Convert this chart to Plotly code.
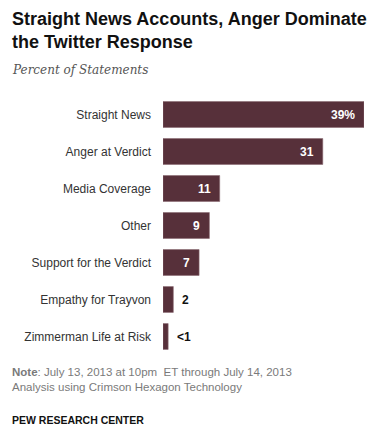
import plotly.graph_objects as go

categories = ["Straight News", "Anger at Verdict", "Media Coverage", "Other",
              "Support for the Verdict", "Empathy for Trayvon", "Zimmerman Life at Risk"]
values = [39, 31, 11, 9, 7, 2, 1]
value_labels = ["39%", "31", "11", "9", "7", "2", "<1"]
inside = [True, True, True, True, True, False, False]

BAR = "#57303A"
SANS = "Liberation Sans, Arial, sans-serif"

fig = go.Figure()
fig.add_trace(go.Bar(
    x=values, y=categories, orientation="h",
    marker=dict(color=BAR, line=dict(color="#8a6a72", width=0.6)),
    hoverinfo="skip",
))

L, R, T, B = 163, 10, 96, 84
fig.update_layout(
    width=374, height=439,
    margin=dict(l=L, r=R, t=T, b=B, pad=0),
    paper_bgcolor="white", plot_bgcolor="white",
    showlegend=False,
    bargap=0.3,
    font=dict(family=SANS, size=12, color="#333333"),
    xaxis=dict(range=[0, 39], visible=False, fixedrange=True),
    yaxis=dict(categoryorder="array", categoryarray=categories[::-1],
               showgrid=False, showline=False, zeroline=False, ticks="",
               ticklabelstandoff=11, tickfont=dict(size=12, color="#333333"),
               fixedrange=True),
)

for c, v, lab, ins in zip(categories, values, value_labels, inside):
    fig.add_annotation(
        x=v, y=c, xref="x", yref="y", text="<b>%s</b>" % lab,
        showarrow=False,
        xanchor="right" if ins else "left",
        xshift=-7 if ins else 7,
        font=dict(family=SANS, size=12, color="white" if ins else "#111111"),
    )

PW, PH = 374 - L - R, 439 - T - B
def px2x(x): return (x - L) / PW
def py2y(y): return (439 - B - y) / PH

def paper_text(px, py, text, size, color, family):
    fig.add_annotation(
        x=px2x(px), y=py2y(py), xref="paper", yref="paper", xanchor="left", yanchor="middle",
        text=text, showarrow=False, align="left",
        font=dict(family=family, size=size, color=color),
    )

paper_text(10, 30, "<b>Straight News Accounts, Anger Dominate<br>the Twitter Response</b>",
           18, "#111111", SANS)
paper_text(10, 70, "<i>Percent of Statements</i>", 12, "#555555",
           "DejaVu Serif, serif")
paper_text(10, 372, "<b>Note</b>: July 13, 2013 at 10pm  ET through July 14, 2013", 11.5,
           "#7a7a7a", SANS)
paper_text(10, 387, "Analysis using Crimson Hexagon Technology", 11.5, "#7a7a7a", SANS)
paper_text(10, 420, "<b>PEW RESEARCH CENTER</b>", 10.5, "#111111", SANS)

fig.write_html("out.html", config={"displayModeBar": False})
